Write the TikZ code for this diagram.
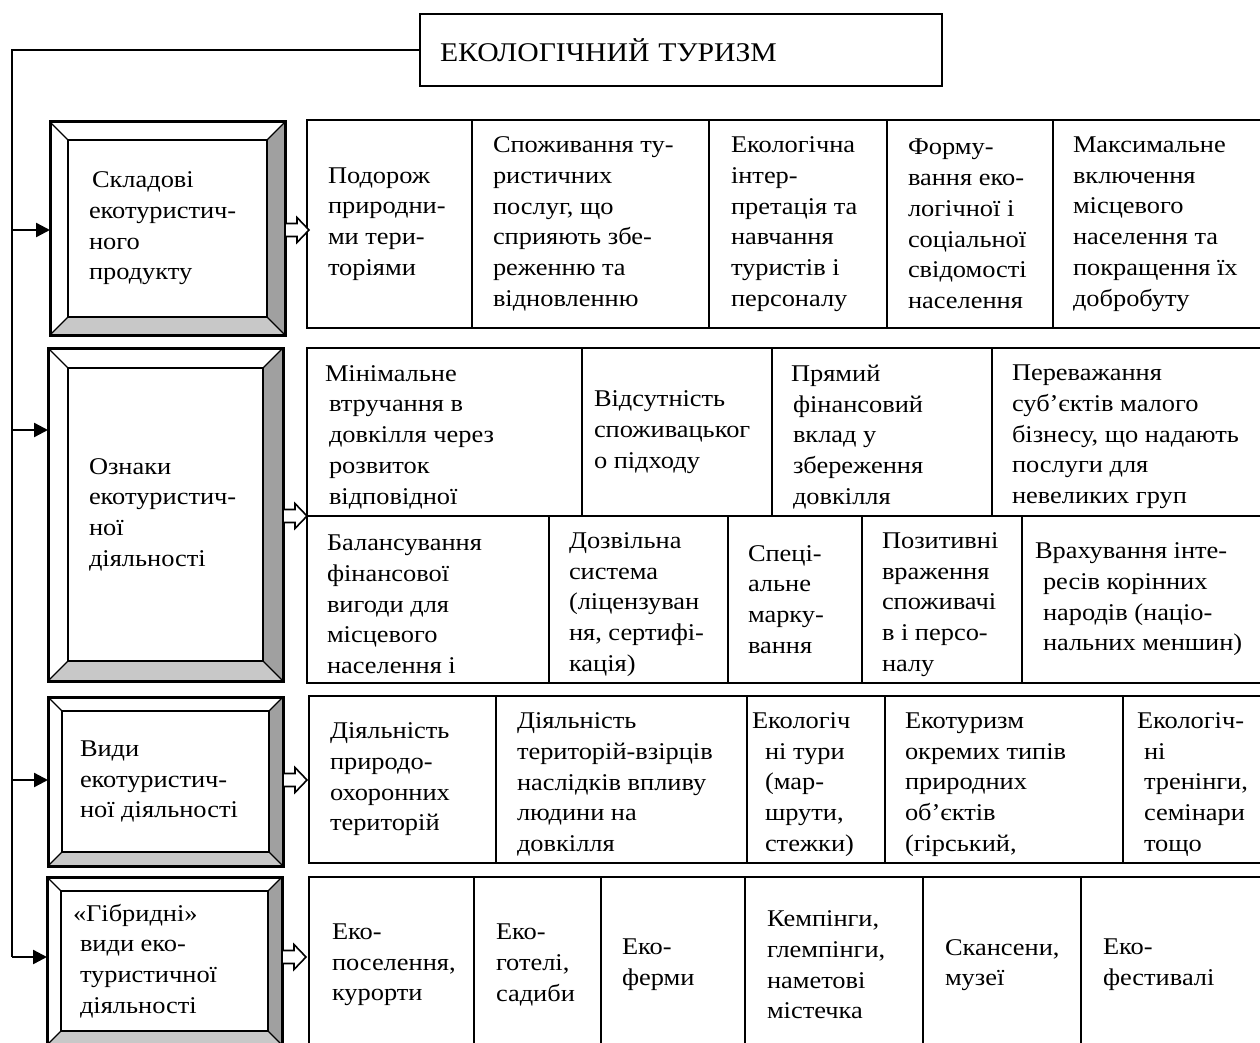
\documentclass[tikz,border=0pt]{standalone}
\usepackage{fontspec}
\setmainfont{Liberation Serif}[FakeStretch=1.1]
\usetikzlibrary{arrows.meta,calc,positioning}
\definecolor{bevelside}{RGB}{160,160,160}
\definecolor{bevelbase}{RGB}{200,200,200}

% bevelled frame round the named inner box, #2 = frame width
\newcommand{\bevelframe}[2]{%
  \coordinate (#1-o1) at ($(#1.north west)+(-#2pt,#2pt)$);
  \coordinate (#1-o2) at ($(#1.north east)+(#2pt,#2pt)$);
  \coordinate (#1-o3) at ($(#1.south east)+(#2pt,-#2pt)$);
  \coordinate (#1-o4) at ($(#1.south west)+(-#2pt,-#2pt)$);
  \fill[bevelside] (#1.north east) -- (#1-o2) -- (#1-o3) -- (#1.south east) -- cycle;
  \fill[bevelbase] (#1.south west) -- (#1.south east) -- (#1-o3) -- (#1-o4) -- cycle;
  \draw[line width=1.3] (#1.north west) -- (#1-o1) (#1.north east) -- (#1-o2)
    (#1.south east) -- (#1-o3) (#1.south west) -- (#1-o4);
  \draw[line width=3] (#1-o1) rectangle (#1-o3);
  \draw[line width=2.4] (#1.north west) rectangle (#1.south east);
}

\begin{document}
\begin{tikzpicture}[x=1pt,y=-1pt,line join=miter,
  every node/.style={outer sep=0pt},
  txt/.style={inner sep=0pt,align=left,font=\fontsize{24}{30.7}\selectfont},
  low/.style={yshift=-5},
  cell/.style={draw,line width=2.2,anchor=north west,inner sep=0pt,minimum height=#1},
  lbox/.style={anchor=north west,inner sep=0pt},
  titlebox/.style={draw,line width=2,anchor=north west,minimum width=522,minimum height=72,
    text width=482,inner xsep=20,align=left,font=\fontsize{27}{30}\selectfont},
  spine/.style={line width=2.4},
  hollow/.style={draw,fill=white,line width=1.6}]
\useasboundingbox (0,0) rectangle (1260,1043);
\clip (0,0) rectangle (1260,1043);

% title
\node[titlebox] (title) at (420,14) {ЕКОЛОГІЧНИЙ ТУРИЗМ};

% left boxes
\node[lbox,minimum width=199,minimum height=177] (sklad) at (68,140) {};
\bevelframe{sklad}{18}
\node[txt,right=21pt of sklad.west] (tsklad) {\hspace*{3pt}Складові\\екотуристич-\\ного\\продукту};
\node[lbox,minimum width=195,minimum height=293] (oznaky) at (68,368) {};
\bevelframe{oznaky}{20}
\node[txt,right=21pt of oznaky.west] (toznaky) {Ознаки\\екотуристич-\\ної\\діяльності};
\node[lbox,minimum width=207,minimum height=141] (vydy) at (62,711) {};
\bevelframe{vydy}{14}
\node[txt,right=18pt of vydy.west] (tvydy) {Види\\екотуристич-\\ної діяльності};
\node[lbox,minimum width=207,minimum height=140] (hibr) at (61,891) {};
\bevelframe{hibr}{14}
\node[txt,right=19pt of hibr.west] (thibr) {\hspace*{-7pt}«Гібридні»\\види еко-\\туристичної\\діяльності};

% row 1
\node[cell=208,minimum width=165] (a1) at (307,120) {};
\node[txt,right=21pt of a1.west] (ta1) {Подорож\\природни-\\ми тери-\\торіями};
\node[cell=208,minimum width=237] (a2) at (472,120) {};
\node[txt,right=21pt of a2.west] (ta2) {Споживання ту-\\ристичних\\послуг, що\\сприяють збе-\\реженню та\\відновленню};
\node[cell=208,minimum width=178] (a3) at (709,120) {};
\node[txt,right=22pt of a3.west] (ta3) {Екологічна\\інтер-\\претація та\\навчання\\туристів і\\персоналу};
\node[cell=208,minimum width=166] (a4) at (887,120) {};
\node[txt,right=21pt of a4.west] (ta4) {Форму-\\вання еко-\\логічної і\\соціальної\\свідомості\\населення};
\node[cell=208,minimum width=260] (a5) at (1053,120) {};
\node[txt,right=20pt of a5.west] (ta5) {Максимальне\\включення\\місцевого\\населення та\\покращення їх\\добробуту};

% row 2, upper part
\node[cell=168,minimum width=275] (b1) at (307,348) {};
\node[txt,low,right=22pt of b1.west] (tb1) {\hspace*{-4pt}Мінімальне\\втручання в\\довкілля через\\розвиток\\відповідної};
\node[cell=168,minimum width=190] (b2) at (582,348) {};
\node[txt,right=12pt of b2.west] (tb2) {Відсутність\\споживацьког\\о підходу};
\node[cell=168,minimum width=220] (b3) at (772,348) {};
\node[txt,low,right=21pt of b3.west] (tb3) {\hspace*{-2pt}Прямий\\фінансовий\\вклад у\\збереження\\довкілля};
\node[cell=168,minimum width=308] (b4) at (992,348) {};
\node[txt,low,right=20pt of b4.west] (tb4) {Переважання\\суб’єктів малого\\бізнесу, що надають\\послуги для\\невеликих груп};

% row 2, lower part
\node[cell=167,minimum width=242] (c1) at (307,516) {};
\node[txt,low,right=20pt of c1.west] (tc1) {Балансування\\фінансової\\вигоди для\\місцевого\\населення і};
\node[cell=167,minimum width=179] (c2) at (549,516) {};
\node[txt,low,right=20pt of c2.west] (tc2) {Дозвільна\\система\\(ліцензуван\\ня, сертифі-\\кація)};
\node[cell=167,minimum width=134] (c3) at (728,516) {};
\node[txt,right=20pt of c3.west] (tc3) {Спеці-\\альне\\марку-\\вання};
\node[cell=167,minimum width=160] (c4) at (862,516) {};
\node[txt,low,right=20pt of c4.west] (tc4) {Позитивні\\враження\\споживачі\\в і персо-\\налу};
\node[cell=167,minimum width=278] (c5) at (1022,516) {};
\node[txt,right=21pt of c5.west] (tc5) {\hspace*{-8pt}Врахування інте-\\ресів корінних\\народів (націо-\\нальних меншин)};

% row 3
\node[cell=167,minimum width=187] (d1) at (309,696) {};
\node[txt,right=21pt of d1.west] (td1) {Діяльність\\природо-\\охоронних\\територій};
\node[cell=167,minimum width=251] (d2) at (496,696) {};
\node[txt,low,right=21pt of d2.west] (td2) {Діяльність\\територій-взірців\\наслідків впливу\\людини на\\довкілля};
\node[cell=167,minimum width=138] (d3) at (747,696) {};
\node[txt,low,right=18pt of d3.west] (td3) {\hspace*{-13pt}Екологіч\\ні тури\\(мар-\\шрути,\\стежки)};
\node[cell=167,minimum width=238] (d4) at (885,696) {};
\node[txt,low,right=20pt of d4.west] (td4) {Екотуризм\\окремих типів\\природних\\об’єктів\\(гірський,};
\node[cell=167,minimum width=177] (d5) at (1123,696) {};
\node[txt,low,right=21pt of d5.west] (td5) {\hspace*{-7pt}Екологіч-\\ні\\тренінги,\\семінари\\тощо};

% row 4
\node[cell=176,minimum width=165] (e1) at (309,877) {};
\node[txt,right=23pt of e1.west] (te1) {Еко-\\поселення,\\курорти};
\node[cell=176,minimum width=127] (e2) at (474,877) {};
\node[txt,right=22pt of e2.west] (te2) {Еко-\\готелі,\\садиби};
\node[cell=176,minimum width=144] (e3) at (601,877) {};
\node[txt,right=21pt of e3.west] (te3) {Еко-\\ферми};
\node[cell=176,minimum width=178] (e4) at (745,877) {};
\node[txt,right=22pt of e4.west] (te4) {Кемпінги,\\глемпінги,\\наметові\\містечка};
\node[cell=176,minimum width=158] (e5) at (923,877) {};
\node[txt,right=22pt of e5.west] (te5) {Скансени,\\музеї};
\node[cell=176,minimum width=220] (e6) at (1081,877) {};
\node[txt,right=22pt of e6.west] (te6) {Еко-\\фестивалі};

% spine with arrows to the left boxes
\coordinate (s1) at (12,230);
\coordinate (s2) at (12,430);
\coordinate (s3) at (12,780);
\coordinate (s4) at (12,957);
\draw[spine] (title.west) -| (s4);
\draw[spine,-{Triangle[length=14pt,width=14pt]}] (s1) -- (s1 -| sklad-o1);
\draw[spine,-{Triangle[length=14pt,width=14pt]}] (s2) -- (s2 -| oznaky-o1);
\draw[spine,-{Triangle[length=14pt,width=14pt]}] (s3) -- (s3 -| vydy-o1);
\draw[spine,-{Triangle[length=14pt,width=14pt]}] (s4) -- (s4 -| hibr-o1);

% hollow arrows to the rows
\coordinate (h1) at (sklad-o2 |- s1);
\coordinate (h2) at (oznaky-o2 |- b1.south west);
\coordinate (h3) at (vydy-o2 |- s3);
\coordinate (h4) at (hibr-o2 |- s4);
\draw[hollow] (h1) ++(0,6.5) -- ++(12,0) -- ++(0,6) -- ++(12,-12.5) -- ++(-12,-12.5) -- ++(0,6) -- ++(-12,0) -- cycle;
\draw[hollow] (h2) ++(0,6.5) -- ++(12,0) -- ++(0,6) -- ++(12,-12.5) -- ++(-12,-12.5) -- ++(0,6) -- ++(-12,0) -- cycle;
\draw[hollow] (h3) ++(0,6.5) -- ++(12,0) -- ++(0,6) -- ++(12,-12.5) -- ++(-12,-12.5) -- ++(0,6) -- ++(-12,0) -- cycle;
\draw[hollow] (h4) ++(0,6.5) -- ++(12,0) -- ++(0,6) -- ++(12,-12.5) -- ++(-12,-12.5) -- ++(0,6) -- ++(-12,0) -- cycle;
\end{tikzpicture}
\end{document}
